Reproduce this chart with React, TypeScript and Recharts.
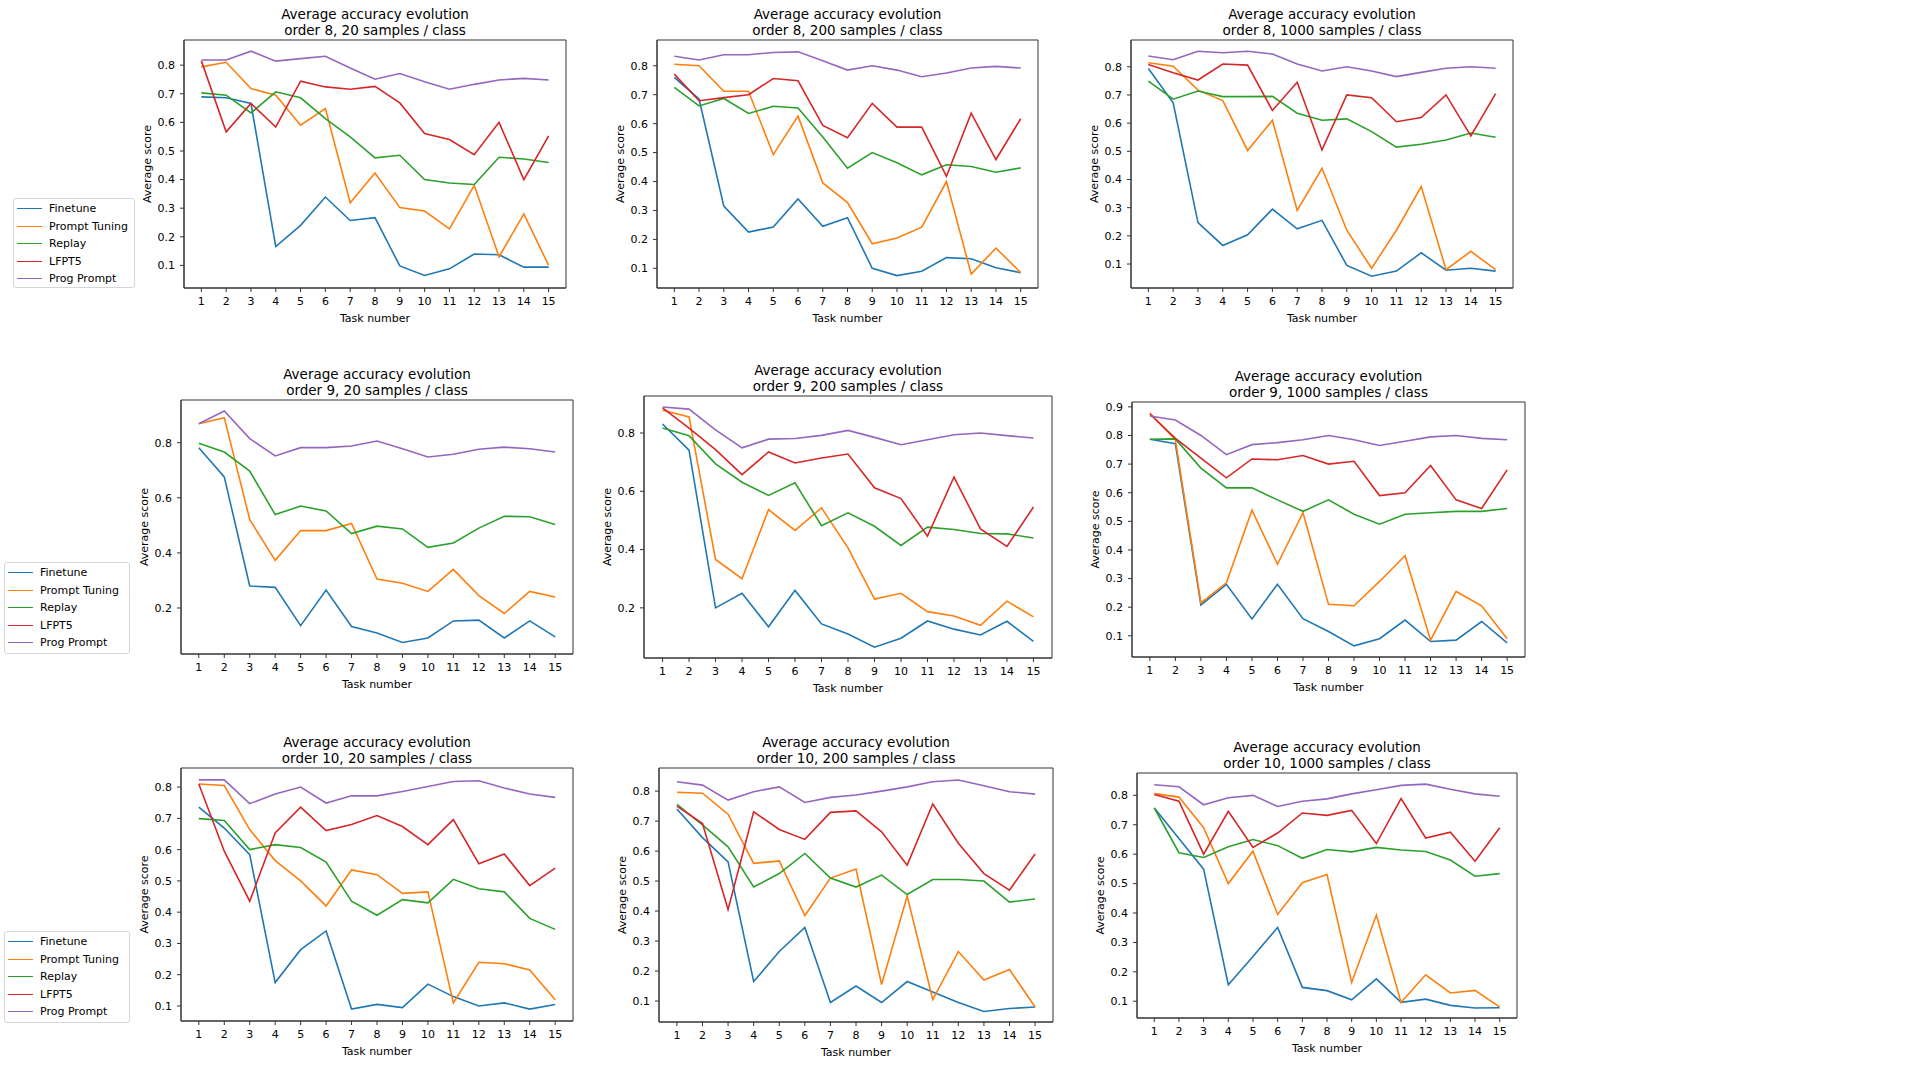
import React from 'react';
import { LineChart, Line, XAxis, YAxis, ReferenceArea } from 'recharts';

const tasks = [1, 2, 3, 4, 5, 6, 7, 8, 9, 10, 11, 12, 13, 14, 15];
const seriesNames = ['Finetune', 'Prompt Tuning', 'Replay', 'LFPT5', 'Prog Prompt'];
const seriesColors = ['#1f77b4', '#ff7f0e', '#2ca02c', '#d62728', '#9467bd'];
const ticksTenths = [0.1, 0.2, 0.3, 0.4, 0.5, 0.6, 0.7, 0.8];
const ticksTenthsTo9 = [0.1, 0.2, 0.3, 0.4, 0.5, 0.6, 0.7, 0.8, 0.9];
const ticksFifths = [0.2, 0.4, 0.6, 0.8];

// order 8, 20 samples / class
const o8s20Finetune = [0.689, 0.686, 0.666, 0.166, 0.24, 0.339, 0.257, 0.267, 0.098, 0.065, 0.088, 0.14, 0.137, 0.094, 0.094];
const o8s20Prompt = [0.794, 0.81, 0.718, 0.695, 0.59, 0.648, 0.319, 0.423, 0.302, 0.29, 0.228, 0.38, 0.13, 0.28, 0.1];
const o8s20Replay = [0.703, 0.695, 0.633, 0.707, 0.686, 0.613, 0.549, 0.476, 0.485, 0.4, 0.388, 0.383, 0.478, 0.472, 0.46];
const o8s20Lfpt5 = [0.815, 0.567, 0.666, 0.584, 0.744, 0.724, 0.716, 0.726, 0.668, 0.561, 0.54, 0.487, 0.6, 0.4, 0.553];
const o8s20Prog = [0.818, 0.818, 0.849, 0.814, 0.823, 0.831, 0.79, 0.751, 0.771, 0.742, 0.716, 0.733, 0.748, 0.754, 0.748];

// order 8, 200 samples / class
const o8s200Finetune = [0.76, 0.685, 0.315, 0.225, 0.243, 0.34, 0.245, 0.275, 0.1, 0.075, 0.09, 0.137, 0.133, 0.102, 0.085];
const o8s200Prompt = [0.805, 0.8, 0.712, 0.712, 0.493, 0.626, 0.395, 0.327, 0.185, 0.205, 0.242, 0.4, 0.08, 0.17, 0.085];
const o8s200Replay = [0.725, 0.661, 0.687, 0.635, 0.66, 0.654, 0.554, 0.446, 0.5, 0.465, 0.423, 0.458, 0.452, 0.432, 0.447];
const o8s200Lfpt5 = [0.771, 0.679, 0.69, 0.7, 0.756, 0.748, 0.594, 0.551, 0.67, 0.588, 0.588, 0.418, 0.636, 0.476, 0.617];
const o8s200Prog = [0.833, 0.82, 0.838, 0.838, 0.846, 0.848, 0.817, 0.785, 0.8, 0.785, 0.762, 0.775, 0.792, 0.798, 0.792];

// order 8, 1000 samples / class
const o8s1000Finetune = [0.794, 0.672, 0.247, 0.166, 0.204, 0.295, 0.225, 0.255, 0.095, 0.057, 0.075, 0.14, 0.078, 0.085, 0.075];
const o8s1000Prompt = [0.814, 0.802, 0.717, 0.68, 0.503, 0.61, 0.29, 0.44, 0.22, 0.085, 0.22, 0.375, 0.08, 0.145, 0.08];
const o8s1000Replay = [0.749, 0.685, 0.714, 0.694, 0.694, 0.695, 0.635, 0.61, 0.615, 0.57, 0.515, 0.525, 0.54, 0.565, 0.55];
const o8s1000Lfpt5 = [0.808, 0.779, 0.753, 0.81, 0.806, 0.645, 0.745, 0.505, 0.7, 0.69, 0.605, 0.62, 0.7, 0.555, 0.705];
const o8s1000Prog = [0.838, 0.825, 0.855, 0.85, 0.855, 0.845, 0.81, 0.785, 0.8, 0.785, 0.765, 0.78, 0.795, 0.8, 0.795];

// order 9, 20 samples / class (no LFPT5 line visible)
const o9s20Finetune = [0.782, 0.676, 0.28, 0.275, 0.136, 0.265, 0.133, 0.109, 0.075, 0.091, 0.153, 0.156, 0.091, 0.153, 0.095];
const o9s20Prompt = [0.869, 0.891, 0.521, 0.373, 0.481, 0.481, 0.507, 0.305, 0.29, 0.26, 0.34, 0.245, 0.18, 0.26, 0.24];
const o9s20Replay = [0.798, 0.766, 0.697, 0.539, 0.57, 0.552, 0.47, 0.497, 0.487, 0.42, 0.436, 0.49, 0.533, 0.531, 0.503];
const o9s20Prog = [0.869, 0.915, 0.815, 0.752, 0.782, 0.782, 0.788, 0.806, 0.778, 0.748, 0.758, 0.776, 0.784, 0.778, 0.766];

// order 9, 200 samples / class
const o9s200Finetune = [0.831, 0.741, 0.2, 0.25, 0.135, 0.26, 0.145, 0.11, 0.065, 0.096, 0.155, 0.127, 0.107, 0.154, 0.085];
const o9s200Prompt = [0.878, 0.855, 0.366, 0.3, 0.537, 0.466, 0.543, 0.406, 0.23, 0.25, 0.187, 0.172, 0.14, 0.223, 0.169];
const o9s200Replay = [0.817, 0.791, 0.694, 0.631, 0.586, 0.629, 0.482, 0.526, 0.48, 0.414, 0.477, 0.469, 0.455, 0.454, 0.44];
const o9s200Lfpt5 = [0.886, 0.817, 0.743, 0.657, 0.735, 0.697, 0.714, 0.728, 0.612, 0.575, 0.446, 0.649, 0.471, 0.411, 0.546];
const o9s200Prog = [0.889, 0.882, 0.811, 0.749, 0.779, 0.781, 0.792, 0.809, 0.785, 0.76, 0.777, 0.794, 0.8, 0.791, 0.783];

// order 9, 1000 samples / class
const o9s1000Finetune = [0.787, 0.771, 0.208, 0.28, 0.159, 0.28, 0.16, 0.115, 0.065, 0.09, 0.155, 0.08, 0.085, 0.15, 0.075];
const o9s1000Prompt = [0.878, 0.785, 0.215, 0.285, 0.539, 0.35, 0.53, 0.21, 0.205, 0.29, 0.38, 0.085, 0.255, 0.205, 0.09];
const o9s1000Replay = [0.787, 0.788, 0.686, 0.617, 0.617, 0.575, 0.535, 0.575, 0.525, 0.49, 0.525, 0.53, 0.535, 0.535, 0.545];
const o9s1000Lfpt5 = [0.875, 0.79, 0.721, 0.652, 0.718, 0.715, 0.73, 0.7, 0.71, 0.59, 0.6, 0.695, 0.575, 0.545, 0.68];
const o9s1000Prog = [0.868, 0.854, 0.8, 0.733, 0.768, 0.775, 0.785, 0.8, 0.785, 0.765, 0.78, 0.795, 0.8, 0.79, 0.785];

// order 10, 20 samples / class
const o10s20Finetune = [0.736, 0.669, 0.584, 0.175, 0.28, 0.34, 0.09, 0.105, 0.095, 0.17, 0.13, 0.1, 0.11, 0.09, 0.105];
const o10s20Prompt = [0.81, 0.805, 0.664, 0.565, 0.5, 0.42, 0.535, 0.52, 0.46, 0.465, 0.11, 0.24, 0.235, 0.215, 0.12];
const o10s20Replay = [0.699, 0.693, 0.6, 0.616, 0.607, 0.56, 0.435, 0.39, 0.44, 0.43, 0.505, 0.475, 0.465, 0.38, 0.345];
const o10s20Lfpt5 = [0.81, 0.595, 0.435, 0.653, 0.736, 0.661, 0.68, 0.709, 0.674, 0.616, 0.696, 0.555, 0.586, 0.485, 0.541];
const o10s20Prog = [0.823, 0.823, 0.747, 0.778, 0.8, 0.749, 0.772, 0.772, 0.786, 0.802, 0.818, 0.82, 0.797, 0.778, 0.767];

// order 10, 200 samples / class
const o10s200Finetune = [0.74, 0.645, 0.564, 0.165, 0.265, 0.345, 0.095, 0.15, 0.095, 0.165, 0.13, 0.095, 0.065, 0.075, 0.08];
const o10s200Prompt = [0.796, 0.793, 0.723, 0.559, 0.567, 0.385, 0.51, 0.54, 0.155, 0.45, 0.105, 0.265, 0.17, 0.205, 0.08];
const o10s200Replay = [0.756, 0.687, 0.614, 0.48, 0.525, 0.592, 0.51, 0.48, 0.52, 0.455, 0.505, 0.505, 0.5, 0.43, 0.44];
const o10s200Lfpt5 = [0.75, 0.692, 0.405, 0.731, 0.672, 0.639, 0.729, 0.734, 0.664, 0.553, 0.757, 0.626, 0.525, 0.47, 0.59];
const o10s200Prog = [0.831, 0.82, 0.77, 0.798, 0.814, 0.762, 0.779, 0.787, 0.8, 0.814, 0.831, 0.837, 0.818, 0.798, 0.79];

// order 10, 1000 samples / class
const o10s1000Finetune = [0.757, 0.653, 0.549, 0.156, 0.252, 0.351, 0.147, 0.136, 0.105, 0.176, 0.096, 0.107, 0.086, 0.077, 0.078];
const o10s1000Prompt = [0.806, 0.794, 0.69, 0.5, 0.61, 0.395, 0.503, 0.531, 0.164, 0.393, 0.096, 0.19, 0.128, 0.137, 0.08];
const o10s1000Replay = [0.757, 0.605, 0.589, 0.625, 0.65, 0.629, 0.586, 0.616, 0.608, 0.623, 0.614, 0.609, 0.58, 0.525, 0.534];
const o10s1000Lfpt5 = [0.803, 0.78, 0.6, 0.746, 0.623, 0.672, 0.74, 0.732, 0.749, 0.636, 0.789, 0.655, 0.675, 0.576, 0.69];
const o10s1000Prog = [0.836, 0.829, 0.768, 0.792, 0.8, 0.762, 0.78, 0.788, 0.805, 0.819, 0.834, 0.838, 0.821, 0.805, 0.797];

type PanelCfg = {
  order: number;
  samples: number;
  x0: number; x1: number; y0: number; y1: number;
  yDomain: [number, number];
  yTicks: number[];
  series: (number[] | null)[];
};

const panels: PanelCfg[] = [
  { order: 8, samples: 20, x0: 184, x1: 566, y0: 40, y1: 288, yDomain: [0.021, 0.888], yTicks: ticksTenths,
    series: [o8s20Finetune, o8s20Prompt, o8s20Replay, o8s20Lfpt5, o8s20Prog] },
  { order: 8, samples: 200, x0: 657, x1: 1038, y0: 40, y1: 288, yDomain: [0.032, 0.889], yTicks: ticksTenths,
    series: [o8s200Finetune, o8s200Prompt, o8s200Replay, o8s200Lfpt5, o8s200Prog] },
  { order: 8, samples: 1000, x0: 1131, x1: 1513, y0: 40, y1: 288, yDomain: [0.015, 0.895], yTicks: ticksTenths,
    series: [o8s1000Finetune, o8s1000Prompt, o8s1000Replay, o8s1000Lfpt5, o8s1000Prog] },
  { order: 9, samples: 20, x0: 181, x1: 573, y0: 400, y1: 654, yDomain: [0.033, 0.955], yTicks: ticksFifths,
    series: [o9s20Finetune, o9s20Prompt, o9s20Replay, null, o9s20Prog] },
  { order: 9, samples: 200, x0: 644, x1: 1052, y0: 396, y1: 658, yDomain: [0.028, 0.927], yTicks: ticksFifths,
    series: [o9s200Finetune, o9s200Prompt, o9s200Replay, o9s200Lfpt5, o9s200Prog] },
  { order: 9, samples: 1000, x0: 1132, x1: 1525, y0: 402, y1: 657, yDomain: [0.026, 0.917], yTicks: ticksTenthsTo9,
    series: [o9s1000Finetune, o9s1000Prompt, o9s1000Replay, o9s1000Lfpt5, o9s1000Prog] },
  { order: 10, samples: 20, x0: 181, x1: 573, y0: 768, y1: 1021, yDomain: [0.052, 0.861], yTicks: ticksTenths,
    series: [o10s20Finetune, o10s20Prompt, o10s20Replay, o10s20Lfpt5, o10s20Prog] },
  { order: 10, samples: 200, x0: 659, x1: 1053, y0: 768, y1: 1022, yDomain: [0.03, 0.877], yTicks: ticksTenths,
    series: [o10s200Finetune, o10s200Prompt, o10s200Replay, o10s200Lfpt5, o10s200Prog] },
  { order: 10, samples: 1000, x0: 1137, x1: 1517, y0: 773, y1: 1018, yDomain: [0.043, 0.876], yTicks: ticksTenths,
    series: [o10s1000Finetune, o10s1000Prompt, o10s1000Replay, o10s1000Lfpt5, o10s1000Prog] },
];

const legends = [
  { x: 13, y: 198, w: 122, h: 90 },
  { x: 4, y: 562, w: 126, h: 92 },
  { x: 4, y: 931, w: 126, h: 92 },
];

const FONT = '"DejaVu Sans", sans-serif';
const AXIS = '#333';

function Panel({ p }: { p: PanelCfg }) {
  const W = p.x1 - p.x0;
  const H = p.y1 - p.y0;
  const ML = 10, YW = 60, MT = 10, MR = 10, XH = 40, MB = 5;
  const data = tasks.map((t, i) => {
    const row: Record<string, number | null> = { task: t };
    p.series.forEach((s, k) => { row['s' + k] = s ? s[i] : null; });
    return row;
  });
  return (
    <>
      <div style={{ position: 'absolute', left: p.x0 - 20, top: p.y0 - 34, width: W + 40, textAlign: 'center', fontSize: 13.5, lineHeight: '16px', color: '#000', whiteSpace: 'nowrap' }}>
        <div>Average accuracy evolution</div>
        <div>{`order ${p.order}, ${p.samples} samples / class`}</div>
      </div>
      <div style={{ position: 'absolute', left: p.x0 - ML - YW, top: p.y0 - MT }}>
        <LineChart width={W + ML + YW + MR} height={H + MT + XH + MB} data={data}
          margin={{ top: MT, right: MR, left: ML, bottom: MB }}>
          <XAxis xAxisId="b" type="number" dataKey="task" domain={[0.3, 15.7]} ticks={tasks} interval={0}
            allowDataOverflow height={XH} stroke={AXIS} tickSize={4} tickMargin={5}
            tick={{ fill: '#000', fontSize: 11 }}
            label={{ value: 'Task number', position: 'insideBottom', offset: 6, fill: '#000', fontSize: 11 }} />
          <YAxis yAxisId="l" type="number" domain={p.yDomain} ticks={p.yTicks} interval={0} allowDataOverflow
            width={YW} stroke={AXIS} tickSize={4} tickMargin={5}
            tick={{ fill: '#000', fontSize: 11 }} tickFormatter={(v: number) => v.toFixed(1)}
            label={{ value: 'Average score', angle: -90, position: 'insideLeft', offset: 23, fill: '#000', fontSize: 11, style: { textAnchor: 'middle' } }} />
          <ReferenceArea xAxisId="b" yAxisId="l" x1={0.3} x2={15.7} y1={p.yDomain[0]} y2={p.yDomain[1]}
            fill="none" fillOpacity={0} stroke={AXIS} strokeWidth={1} strokeOpacity={1} ifOverflow="visible" />
          {p.series.map((s, k) => s ? (
            <Line key={k} xAxisId="b" yAxisId="l" type="linear" dataKey={'s' + k} name={seriesNames[k]}
              stroke={seriesColors[k]} strokeWidth={1.6} dot={false} isAnimationActive={false} />
          ) : null)}
        </LineChart>
      </div>
    </>
  );
}

function LegendBox({ x, y, w, h }: { x: number; y: number; w: number; h: number }) {
  return (
    <div style={{ position: 'absolute', left: x, top: y, width: w, height: h, boxSizing: 'border-box', border: '1px solid #d6d6d6', borderRadius: 3, background: '#fff' }}>
      {seriesNames.map((n, k) => (
        <div key={n} style={{ position: 'absolute', left: 0, top: 1 + k * 17.5, height: 17, width: w - 2 }}>
          <div style={{ position: 'absolute', left: 3, top: 8, width: 25, height: 0, borderTop: `1.6px solid ${seriesColors[k]}` }} />
          <div style={{ position: 'absolute', left: 35, top: 1, fontSize: 11, lineHeight: '15px', color: '#000', whiteSpace: 'nowrap' }}>{n}</div>
        </div>
      ))}
    </div>
  );
}

export default function App() {
  return (
    <div style={{ position: 'absolute', left: 0, top: 0, width: 1920, height: 1080, background: '#fff', fontFamily: FONT }}>
      {panels.map((p, i) => <Panel key={i} p={p} />)}
      {legends.map((l, i) => <LegendBox key={i} {...l} />)}
    </div>
  );
}
